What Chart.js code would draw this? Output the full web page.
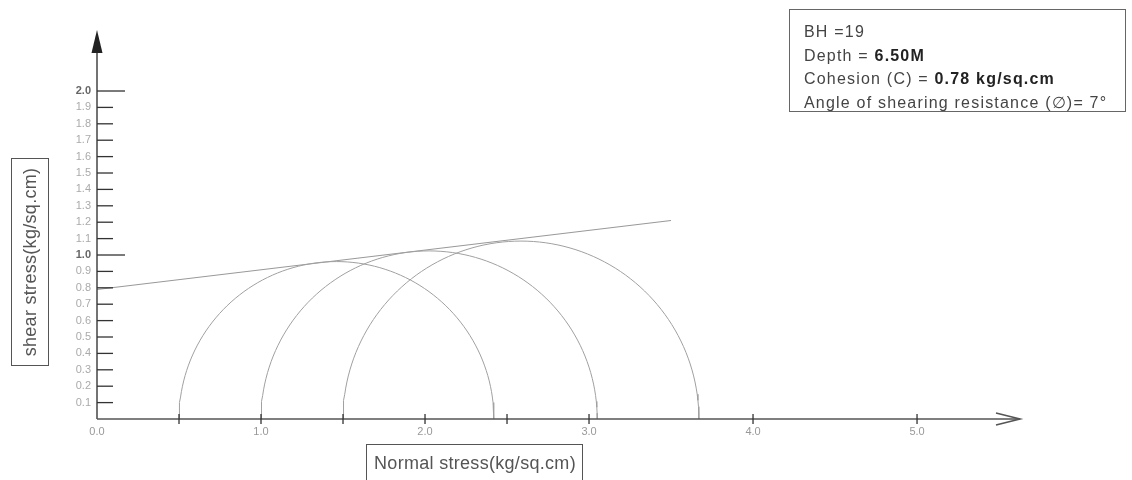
<!DOCTYPE html>
<html>
<head>
<meta charset="utf-8">
<script src="https://cdn.jsdelivr.net/npm/chart.js@4/dist/chart.umd.min.js"></script>
<style>
  body { margin: 0; background: #fff; }
  #wrap { width: 1132px; height: 480px; position: relative; }
</style>
</head>
<body>
<div id="wrap"><canvas id="mohrChart"></canvas></div>
<script>
// Mohr circles (kg/sq.cm)
const sigma3 = [0.5, 1.0, 1.5];
const sigma1 = [2.42, 3.05, 3.67];

// failure envelope
const envelopeX = [0, 3.5];
const envelopeY = [0.79, 1.21];

// axis ticks
const yTicks = [0.1, 0.2, 0.3, 0.4, 0.5, 0.6, 0.7, 0.8, 0.9, 1.0, 1.1, 1.2, 1.3, 1.4, 1.5, 1.6, 1.7, 1.8, 1.9, 2.0];
const yMajor = [1.0, 2.0];
const xTickMarks = [0.5, 1.0, 1.5, 2.0, 2.5, 3.0, 4.0, 5.0];
const xLabelValues = [0, 1, 2, 3, 4, 5];

const xTitle = "Normal stress(kg/sq.cm)";
const yTitle = "shear stress(kg/sq.cm)";
const infoLines = [
    ["BH =19", ""],
    ["Depth = ", "6.50M"],
    ["Cohesion (C) = ", "0.78 kg/sq.cm"],
    ["Angle of shearing resistance (\u2205)= 7\u00b0", ""],
];

// half circle between sigma3 and sigma1
function halfCircle(s3, s1) {
    const c = (s3 + s1) / 2;
    const r = (s1 - s3) / 2;
    const pts = [];
    for (let a = 180; a >= 0; a -= 2) {
        const t = a * Math.PI / 180;
        pts.push({ x: c + r * Math.cos(t), y: r * Math.sin(t) });
    }
    return pts;
}

const datasets = sigma3.map((s3, i) => ({
    data: halfCircle(s3, sigma1[i]),
    showLine: true,
    borderColor: "#a0a0a0",
    borderWidth: 1,
    pointRadius: 0,
    tension: 0,
}));
datasets.push({
    data: envelopeX.map((x, i) => ({ x: x, y: envelopeY[i] })),
    showLine: true,
    borderColor: "#999",
    borderWidth: 1.1,
    pointRadius: 0,
});

const axesPlugin = {
    id: "mohrAxes",
    afterDraw(chart) {
        const ctx = chart.ctx;
        const xs = chart.scales.x;
        const ys = chart.scales.y;
        const x0 = xs.getPixelForValue(0);
        const y0 = ys.getPixelForValue(0);
        ctx.save();

        // y axis with filled arrow
        ctx.strokeStyle = "#444";
        ctx.lineWidth = 1.5;
        ctx.beginPath();
        ctx.moveTo(x0, y0);
        ctx.lineTo(x0, chart.chartArea.top + 22);
        ctx.stroke();
        ctx.fillStyle = "#222";
        ctx.beginPath();
        ctx.moveTo(x0, chart.chartArea.top);
        ctx.lineTo(x0 - 5.5, chart.chartArea.top + 23);
        ctx.lineTo(x0 + 5.5, chart.chartArea.top + 23);
        ctx.closePath();
        ctx.fill();

        // x axis with open arrow
        const xEnd = chart.chartArea.right - 2;
        ctx.strokeStyle = "#555";
        ctx.lineWidth = 1.3;
        ctx.beginPath();
        ctx.moveTo(x0, y0);
        ctx.lineTo(xEnd, y0);
        ctx.stroke();
        ctx.lineWidth = 1.6;
        ctx.beginPath();
        ctx.moveTo(xEnd - 24, y0 - 6);
        ctx.lineTo(xEnd, y0);
        ctx.lineTo(xEnd - 24, y0 + 6);
        ctx.stroke();

        // y ticks and labels
        ctx.textAlign = "right";
        ctx.textBaseline = "middle";
        yTicks.forEach(v => {
            const py = ys.getPixelForValue(v);
            const major = yMajor.includes(v);
            ctx.strokeStyle = "#333";
            ctx.lineWidth = 1.3;
            ctx.beginPath();
            ctx.moveTo(x0, py);
            ctx.lineTo(x0 + (major ? 28 : 16), py);
            ctx.stroke();
            ctx.font = major ? "bold 11px 'Liberation Sans'" : "11px 'Liberation Sans'";
            ctx.fillStyle = major ? "#666" : "#aaa";
            ctx.fillText(v.toFixed(1), x0 - 6, py);
        });

        // x ticks and labels
        ctx.strokeStyle = "#333";
        ctx.lineWidth = 1.3;
        xTickMarks.forEach(v => {
            const px = xs.getPixelForValue(v);
            ctx.beginPath();
            ctx.moveTo(px, y0 - 5);
            ctx.lineTo(px, y0 + 5);
            ctx.stroke();
        });
        ctx.textAlign = "center";
        ctx.textBaseline = "middle";
        ctx.font = "11px 'Liberation Sans'";
        ctx.fillStyle = "#999";
        xLabelValues.forEach(v => {
            ctx.fillText(v.toFixed(1), xs.getPixelForValue(v), y0 + 13);
        });

        // x title in a box
        ctx.strokeStyle = "#555";
        ctx.lineWidth = 1;
        ctx.strokeRect(366.5, 444.5, 216, 50);
        ctx.font = "18px 'Liberation Sans'";
        ctx.letterSpacing = "0.3px";
        ctx.fillStyle = "#555";
        ctx.fillText(xTitle, 475, 464);

        // y title in a box
        ctx.strokeRect(11.5, 158.5, 37, 207);
        ctx.save();
        ctx.translate(31, 262);
        ctx.rotate(-Math.PI / 2);
        ctx.fillText(yTitle, 0, 0);
        ctx.restore();

        // info box
        ctx.letterSpacing = "1.2px";
        ctx.strokeStyle = "#666";
        ctx.strokeRect(789.5, 9.5, 336, 102);
        ctx.textAlign = "left";
        ctx.textBaseline = "alphabetic";
        ctx.fillStyle = "#444";
        infoLines.forEach((parts, i) => {
            const py = 37 + i * 23.5;
            ctx.font = "16px 'Liberation Sans'";
            ctx.fillText(parts[0], 804, py);
            if (parts[1]) {
                const w = ctx.measureText(parts[0]).width;
                ctx.font = "bold 16px 'Liberation Sans'";
                ctx.fillStyle = "#222";
                ctx.fillText(parts[1], 804 + w, py);
                ctx.fillStyle = "#444";
            }
        });
        ctx.restore();
    },
};

const ctx = document.getElementById("mohrChart").getContext("2d");
new Chart(ctx, {
    type: "scatter",
    data: { datasets: datasets },
    options: {
        responsive: true,
        maintainAspectRatio: false,
        animation: false,
        layout: { padding: { left: 97, right: 110, top: 30, bottom: 61 } },
        plugins: { legend: { display: false }, tooltip: { enabled: false } },
        scales: {
            x: { type: "linear", min: 0, max: 5.64, display: false },
            y: { type: "linear", min: 0, max: 2.372, display: false },
        },
    },
    plugins: [axesPlugin],
});
</script>
</body>
</html>
